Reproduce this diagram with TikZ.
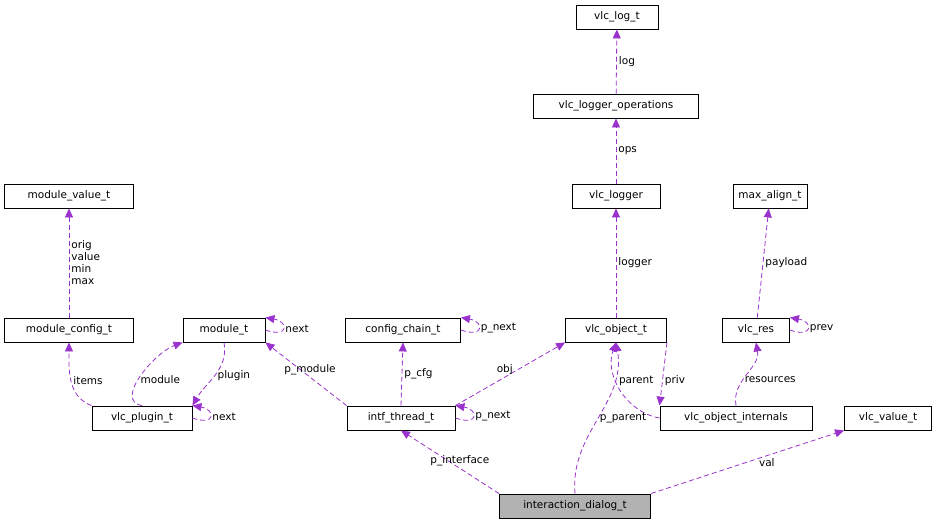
\documentclass[tikz,border=0pt]{standalone}
\usepackage{fontspec}
\setmainfont{DejaVu Sans}
\usetikzlibrary{arrows.meta}
\definecolor{edgepurple}{RGB}{154,50,205}
\tikzset{
  cls/.style={draw=black,line width=0.9pt,fill=white,minimum height=24pt,inner xsep=3pt,font=\fontsize{10.5}{12}\selectfont},
  use/.style={draw=edgepurple,line width=0.8pt,dash pattern=on 5pt off 3pt,-{Triangle[length=9pt,width=8pt,fill=edgepurple]}},
  lbl/.style={font=\fontsize{10.5}{12}\selectfont,inner sep=2pt}
}
\begin{document}
\begin{tikzpicture}[x=1pt,y=-1pt]
\useasboundingbox (0,0) rectangle (938,528);
%classes
\node[cls,minimum width=82pt] (logt) at (617,17) {vlc\_log\_t};
\node[cls,minimum width=165pt] (logops) at (616,106) {vlc\_logger\_operations};
\node[cls,minimum width=88pt] (logger) at (616,196) {vlc\_logger};
\node[cls,minimum width=74pt] (maxal) at (770,196) {max\_align\_t};
\node[cls,minimum width=129pt] (modval) at (69,196) {module\_value\_t};
\node[cls,minimum width=129pt] (modcfg) at (69,330) {module\_config\_t};
\node[cls,minimum width=82pt] (modt) at (224,330) {module\_t};
\node[cls,minimum width=115pt] (cfgch) at (403,330) {config\_chain\_t};
\node[cls,minimum width=101pt] (objt) at (616,330) {vlc\_object\_t};
\node[cls,minimum width=67pt] (res) at (756,330) {vlc\_res};
\node[cls,minimum width=100pt] (plugin) at (142,418) {vlc\_plugin\_t};
\node[cls,minimum width=108pt] (intf) at (401,418) {intf\_thread\_t};
\node[cls,minimum width=152pt] (objint) at (736,418) {vlc\_object\_internals};
\node[cls,minimum width=87pt] (valt) at (888,418) {vlc\_value\_t};
\node[cls,minimum width=151pt,fill=black!30] (dialog) at (575,506) {interaction\_dialog\_t};
%top chain
\draw[use] (logops) -- node[lbl,right] {log} (logt);
\draw[use] (logger) -- node[lbl,right] {ops} (logops);
\draw[use] (objt) -- node[lbl,right] {logger} (logger);
\draw[use] (res) -- node[lbl,right] {payload} (maxal);
\draw[use] (res.east) to[out=-20,in=-10,looseness=5] node[lbl,right] {prev} (res.north east);
%modules
\draw[use] (modcfg) -- node[lbl,right,align=left] {orig\\value\\min\\max} (modval);
\draw[use] (plugin.north west) to[out=160,in=-90] node[lbl,right] {items} (modcfg.south);
\draw[use] (plugin.north) to[out=170,in=200] node[lbl,pos=0.45,right] {module} (modt.south west);
\draw[use] (modt.south) to[out=-80,in=60] node[lbl,right] {plugin} (plugin.north east);
\draw[use] (modt.east) to[out=-20,in=-10,looseness=5] node[lbl,right] {next} (modt.north east);
\draw[use] (plugin.east) to[out=-20,in=-10,looseness=5] node[lbl,right] {next} (plugin.north east);
\draw[use] (cfgch.east) to[out=-20,in=-10,looseness=5] node[lbl,right] {p\_next} (cfgch.north east);
%intf
\draw[use] (intf.north west) -- node[lbl,above,pos=0.45] {p\_module} (modt.south east);
\draw[use] (intf.north) -- node[lbl,right] {p\_cfg} (cfgch.south);
\draw[use] (intf.north east) -- node[lbl,above,pos=0.45] {obj} (objt.south west);
\draw[use] (intf.east) to[out=-20,in=-10,looseness=5] node[lbl,right] {p\_next} (intf.north east);
%object
\draw[use] (objt.south east) -- node[lbl,right,pos=0.6] {priv} (objint.north west);
\draw[use] (objint.west) to[out=170,in=-110] node[lbl,right,pos=0.6] {parent} (objt.south);
\draw[use] (objint.north) to[out=100,in=-80] node[lbl,right,pos=0.4] {resources} (res.south);
%dialog
\draw[use] (dialog.north west) -- node[lbl,above,pos=0.4] {p\_interface} (intf.south);
\draw[use] (dialog.north) to[out=95,in=-80] node[lbl,right,pos=0.5] {p\_parent} (objt.south);
\draw[use] (dialog.north east) -- node[lbl,below,pos=0.6] {val} (valt.south west);
\end{tikzpicture}
\end{document}
